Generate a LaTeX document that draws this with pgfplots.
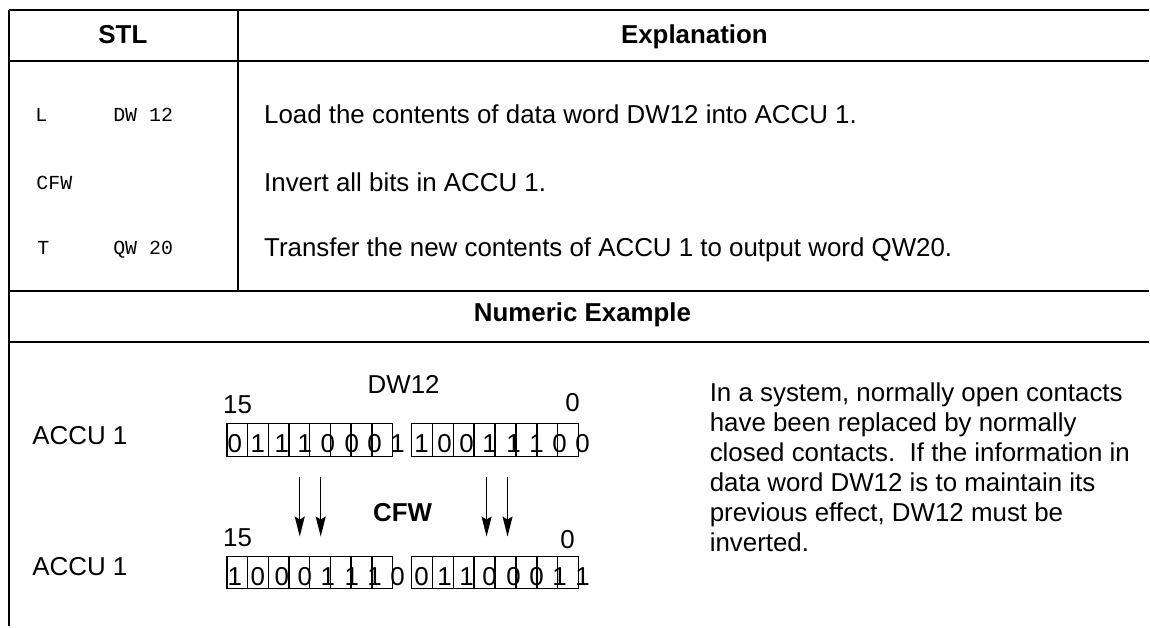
\documentclass[border=0pt]{standalone}
\usepackage{fontspec}
\setmainfont{Liberation Sans}
\setmonofont{Liberation Mono}
\usepackage{pgfplots}
\usepackage{pgfplotstable}
\pgfplotsset{compat=1.18}
\usetikzlibrary{arrows.meta}
\newcommand\bodyfont{\fontsize{13}{15}\selectfont}
\newcommand\codefont{\ttfamily\fontsize{10}{12}\selectfont}

% bit values of ACCU 1 before (row 1) and after CFW (row 2)
\pgfplotstableread{
x y d
235 453 0
258 453 1
282 453 1
305 453 1
328 453 0
352 453 0
375 453 0
398 453 1
422 453 1
445 453 0
467 453 0
490 453 1
514 453 1
537 453 1
560 453 0
583 453 0
}\bitsA
\pgfplotstableread{
x y d
235 586 1
258 586 0
282 586 0
305 586 0
328 586 1
352 586 1
375 586 1
398 586 0
422 586 0
445 586 1
467 586 1
490 586 0
514 586 0
537 586 0
560 586 1
583 586 1
}\bitsB

\begin{document}
\begin{tikzpicture}
\begin{axis}[hide axis, scale only axis, width=575bp, height=313.5bp,
  xmin=0, xmax=1150, ymin=0, ymax=627, y dir=reverse, clip=false]
\path (axis cs:0,0) rectangle (axis cs:1150,627);

% table rules
\draw[line width=1bp] (axis cs:9,10) -- (axis cs:1150,10);
\draw[line width=1bp] (axis cs:9,61) -- (axis cs:1150,61);
\draw[line width=1bp] (axis cs:9,291) -- (axis cs:1150,291);
\draw[line width=1bp] (axis cs:9,342) -- (axis cs:1150,342);
\draw[line width=1bp] (axis cs:9,10) -- (axis cs:9,627);
\draw[line width=1bp] (axis cs:238,10) -- (axis cs:238,291);

% headers
\node[inner sep=0pt, anchor=base, font=\bodyfont\bfseries] at (axis cs:123,44) {STL};
\node[inner sep=0pt, anchor=base, font=\bodyfont\bfseries] at (axis cs:695,44) {Explanation};
\node[inner sep=0pt, anchor=base, font=\bodyfont\bfseries] at (axis cs:583,322) {Numeric Example};

% STL code
\node[inner sep=0pt, anchor=base west, font=\codefont] at (axis cs:35,122) {L};
\node[inner sep=0pt, anchor=base west, font=\codefont] at (axis cs:113,122) {DW 12};
\node[inner sep=0pt, anchor=base west, font=\codefont] at (axis cs:36,190) {CFW};
\node[inner sep=0pt, anchor=base west, font=\codefont] at (axis cs:37,255) {T};
\node[inner sep=0pt, anchor=base west, font=\codefont] at (axis cs:113,255) {QW 20};

% explanations
\node[inner sep=0pt, anchor=base west, font=\bodyfont] at (axis cs:264,124) {Load the contents of data word DW12 into ACCU 1.};
\node[inner sep=0pt, anchor=base west, font=\bodyfont] at (axis cs:264,192) {Invert all bits in ACCU 1.};
\node[inner sep=0pt, anchor=base west, font=\bodyfont] at (axis cs:264,257) {Transfer the new contents of ACCU 1 to output word QW20.};

% numeric example labels
\node[inner sep=0pt, anchor=base west, font=\bodyfont] at (axis cs:32,445) {ACCU 1};
\node[inner sep=0pt, anchor=base west, font=\bodyfont] at (axis cs:32,576) {ACCU 1};
\node[inner sep=0pt, anchor=base west, font=\bodyfont] at (axis cs:223,414) {15};
\node[inner sep=0pt, anchor=base west, font=\bodyfont] at (axis cs:223,547) {15};
\node[inner sep=0pt, anchor=base, font=\bodyfont] at (axis cs:404,394) {DW12};
\node[inner sep=0pt, anchor=base, font=\bodyfont] at (axis cs:573,412) {0};
\node[inner sep=0pt, anchor=base, font=\bodyfont] at (axis cs:568,549) {0};
\node[inner sep=0pt, anchor=base, font=\bodyfont\bfseries] at (axis cs:403,522) {CFW};

% register boxes
\draw[line width=0.75bp] (axis cs:227,424) rectangle (axis cs:393,457);
\draw[line width=0.75bp] (axis cs:412,424) rectangle (axis cs:579,457);
\draw[line width=0.75bp] (axis cs:227,557) rectangle (axis cs:393,589);
\draw[line width=0.75bp] (axis cs:412,557) rectangle (axis cs:579,589);
\pgfplotsinvokeforeach{247.75,268.5,289.25,310,330.75,351.5,372.25,432.9,453.8,474.6,495.5,516.4,537.3,558.1}{
  \draw[line width=0.75bp] (axis cs:#1,424) -- (axis cs:#1,457);
  \draw[line width=0.75bp] (axis cs:#1,557) -- (axis cs:#1,589);
}

% bit digits
\addplot[draw=none, nodes near coords, point meta=explicit symbolic,
  every node near coord/.append style={anchor=base, inner sep=0pt, font=\bodyfont}]
  table[x=x, y=y, meta=d] {\bitsA};
\addplot[draw=none, nodes near coords, point meta=explicit symbolic,
  every node near coord/.append style={anchor=base, inner sep=0pt, font=\bodyfont}]
  table[x=x, y=y, meta=d] {\bitsB};

% arrows
\draw[line width=0.75bp, -{Stealth[length=10bp,width=5bp,inset=1.5bp]}] (axis cs:300,477) -- (axis cs:300,537);
\draw[line width=0.75bp, -{Stealth[length=10bp,width=5bp,inset=1.5bp]}] (axis cs:321,477) -- (axis cs:321,537);
\draw[line width=0.75bp, -{Stealth[length=10bp,width=5bp,inset=1.5bp]}] (axis cs:487,477) -- (axis cs:487,537);
\draw[line width=0.75bp, -{Stealth[length=10bp,width=5bp,inset=1.5bp]}] (axis cs:508,477) -- (axis cs:508,537);

% description
\node[inner sep=0pt, anchor=base west, font=\bodyfont] at (axis cs:710,402) {In a system, normally open contacts};
\node[inner sep=0pt, anchor=base west, font=\bodyfont] at (axis cs:710,432) {have been replaced by normally};
\node[inner sep=0pt, anchor=base west, font=\bodyfont] at (axis cs:710,462) {closed contacts.\ \ If the information in};
\node[inner sep=0pt, anchor=base west, font=\bodyfont] at (axis cs:710,492) {data word DW12 is to maintain its};
\node[inner sep=0pt, anchor=base west, font=\bodyfont] at (axis cs:710,522) {previous effect, DW12 must be};
\node[inner sep=0pt, anchor=base west, font=\bodyfont] at (axis cs:710,552) {inverted.};
\end{axis}
\end{tikzpicture}
\end{document}
